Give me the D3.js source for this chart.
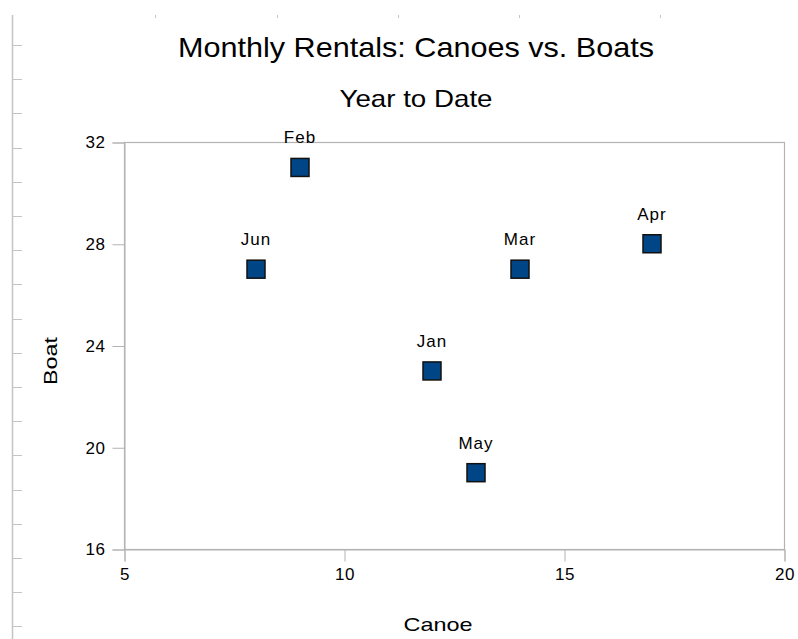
<!DOCTYPE html>
<html>
<head>
<meta charset="utf-8">
<script src="https://cdn.jsdelivr.net/npm/d3@7"></script>
<style>
  html, body { margin: 0; padding: 0; background: #fff; }
  svg { display: block; font-family: "Liberation Sans", Arial, sans-serif; }
</style>
</head>
<body>
<svg id="chart" width="798" height="639"></svg>
<script>
// Monthly rentals per month: canoes (x) against boats (y)
const months = ["Jan", "Feb", "Mar", "Apr", "May", "Jun"];
const canoes = [12, 9, 14, 17, 13, 8];
const boats  = [23, 31, 27, 28, 19, 27];
const xTicks = [5, 10, 15, 20];
const yTicks = [16, 20, 24, 28, 32];

const titleText = "Monthly Rentals: Canoes vs. Boats";
const subtitleText = "Year to Date";
const xTitle = "Canoe";
const yTitle = "Boat";

const svg = d3.select("#chart");
const plot = { left: 124, top: 142, right: 784, bottom: 549 };

const x = d3.scaleLinear().domain([5, 20]).range([plot.left, plot.right]);
const y = d3.scaleLinear().domain([16, 32]).range([plot.bottom, plot.top]);

// Page ruler along the left edge and top
const ruler = svg.append("g").attr("stroke", "#c4c4c4");
ruler.append("line").attr("x1", 12.5).attr("x2", 12.5).attr("y1", 15).attr("y2", 639).attr("stroke-width", 1.5);
d3.range(45, 639, 34.2).forEach(v => {
  ruler.append("line").attr("x1", 12).attr("x2", 22).attr("y1", Math.round(v) + 0.5).attr("y2", Math.round(v) + 0.5);
});
[155, 277, 398, 519, 660].forEach(v => {
  ruler.append("line").attr("x1", v + 0.5).attr("x2", v + 0.5).attr("y1", 15).attr("y2", 18);
});

// Plot frame
svg.append("rect")
  .attr("x", plot.left + 0.5).attr("y", plot.top + 0.5)
  .attr("width", plot.right - plot.left).attr("height", plot.bottom - plot.top)
  .attr("fill", "none").attr("stroke", "#b3b3b3").attr("stroke-width", 1.2);

// Axes
const xAxis = svg.append("g").attr("transform", `translate(0.5,${plot.bottom + 0.5})`)
  .call(d3.axisBottom(x).tickValues(xTicks).tickSize(12).tickPadding(6).tickFormat(d3.format("d")));
const yAxis = svg.append("g").attr("transform", `translate(${plot.left + 0.5},0.5)`)
  .call(d3.axisLeft(y).tickValues(yTicks).tickSize(12).tickPadding(7).tickFormat(d3.format("d")));
[xAxis, yAxis].forEach(a => {
  a.select(".domain").attr("stroke", "#b3b3b3");
  a.selectAll(".tick line").attr("stroke", "#b3b3b3");
  a.selectAll(".tick text").attr("fill", "#000").style("font-size", "17px")
    .style("letter-spacing", "0.5px")
    .style("font-family", "'Liberation Sans', Arial, sans-serif");
});

// Titles
svg.append("text").attr("x", 416).attr("y", 57).attr("text-anchor", "middle")
  .attr("textLength", 476).attr("lengthAdjust", "spacingAndGlyphs")
  .style("font-size", "28px").text(titleText);
svg.append("text").attr("x", 416).attr("y", 107).attr("text-anchor", "middle")
  .attr("textLength", 153).attr("lengthAdjust", "spacingAndGlyphs")
  .style("font-size", "24px").text(subtitleText);
svg.append("text").attr("x", 438).attr("y", 631).attr("text-anchor", "middle")
  .attr("textLength", 69).attr("lengthAdjust", "spacingAndGlyphs")
  .style("font-size", "19px").text(xTitle);
svg.append("text").attr("transform", "translate(57,361) rotate(-90)").attr("text-anchor", "middle")
  .attr("textLength", 48).attr("lengthAdjust", "spacingAndGlyphs")
  .style("font-size", "19px").text(yTitle);

// Points and month labels
const pts = months.map((m, i) => ({ m, c: canoes[i], b: boats[i] }));
const size = 18;
const g = svg.append("g");
g.selectAll("rect.pt").data(pts).join("rect").attr("class", "pt")
  .attr("x", d => x(d.c) - size / 2).attr("y", d => y(d.b) - size / 2)
  .attr("width", size).attr("height", size)
  .attr("fill", "#004586").attr("stroke", "#111").attr("stroke-width", 1.5);
g.selectAll("text.lbl").data(pts).join("text").attr("class", "lbl")
  .attr("x", d => x(d.c)).attr("y", d => y(d.b) - 24)
  .attr("text-anchor", "middle").style("font-size", "17px")
  .style("letter-spacing", "1px").text(d => d.m);
</script>
</body>
</html>
